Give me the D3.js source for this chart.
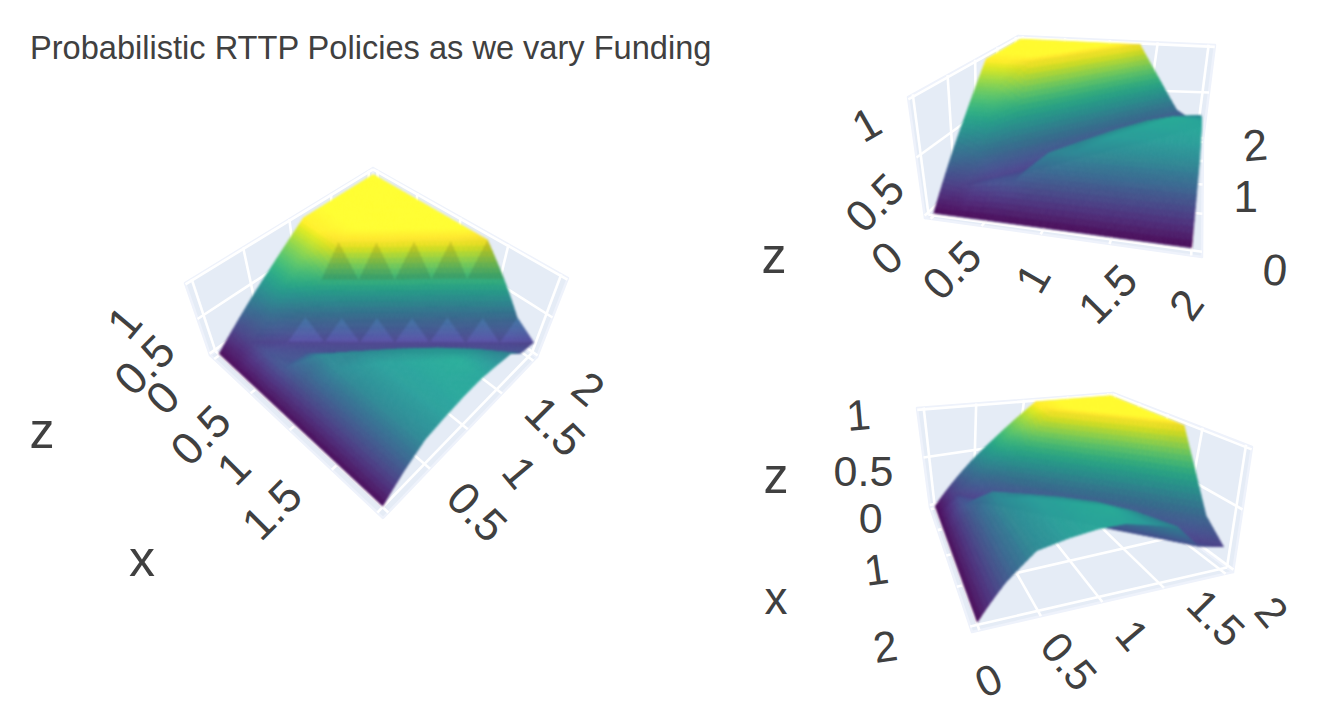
<!DOCTYPE html>
<html><head><meta charset="utf-8">
<script src="https://cdn.jsdelivr.net/npm/d3@7"></script>
<style>html,body{margin:0;padding:0;background:#fff}svg{display:block}text{font-family:"Liberation Sans",Arial,sans-serif;fill:#404040}.surf{filter:blur(0.8px)}</style>
</head><body><svg id="c" width="1320" height="720"></svg>
<script>
const chartTitle = "Probabilistic RTTP Policies as we vary Funding";
const xValues = [0,0.22,0.44,0.67,0.89,1.11,1.33,1.56,1.78,2];
const yValues = [0,0.22,0.44,0.67,0.89,1.11,1.33,1.56,1.78,2];
const zValues = [
 [0,0,0,0,0,0,0,0,0,0],
 [0.2,0.17,0.22,0.25,0.25,0.25,0.25,0.25,0.25,0.25],
 [0.4,0.32,0.17,0.22,0.42,0.45,0.45,0.45,0.45,0.45],
 [0.6,0.6,0.32,0.17,0.22,0.45,0.5,0.5,0.5,0.5],
 [0.8,0.8,0.66,0.32,0.17,0.22,0.48,0.53,0.53,0.53],
 [1,1,1,0.66,0.32,0.17,0.22,0.5,0.55,0.53],
 [1,1,1,1,0.66,0.32,0.17,0.22,0.48,0.48],
 [1,1,1,1,1,0.66,0.32,0.17,0.22,0.42],
 [1,1,1,1,1,1,0.66,0.32,0.17,0.22],
 [1,1,1,1,1,1,1,0.66,0.32,0.17]
];
const gridTicks = [0,0.5,1,1.5,2];
const zGridTicks = [0,0.5,1];

const scenes = [
 {floor:[[210,355],[383,518],[537,357],[373,240]], top:[[185,283],[387,462],[568,278],[373,168]], eye:[1,-1,1.6], light:[0.86,0.2],
  upShade:{0:1.15,2:0.88}, downShade:{}, fs:45,
  axes:{x:{ticks:[0.5,1,1.5],off:[[-50,42],[-56,38],[-60,40]],rot:[-45,-45,-45]},
        y:{ticks:[0.5,1,1.5,2],off:[[47,43],[52,43],[53,33],[55,28]],rot:[45,50,45,40]},
        z:{ticks:[0,0.5,1],off:[[-47,44],[-53,46],[-61,38]],rot:[-45,-45,-50]}},
  titles:[["z",42,431,50],["x",142,558,52]]},
 {floor:[[925,218],[1202,257],[1203,140],[1012,136]], top:[[908,97],[1217,127],[1215,45],[1018,36]], eye:[0.25,-1.5,0.5], light:[0.86,0.18],
  upShade:{}, downShade:{}, fs:44,
  axes:{x:{ticks:[0.5,1,1.5,2],off:[[-30,44],[-8,44],[-2,50],[-5,49]],rot:[-45,-60,-45,-55]},
        y:{ticks:[0,1,2],off:[[73,18],[43,12],[52,3]],rot:[5,0,-5]},
        z:{ticks:[0,0.5,1],off:[[-38,42],[-42,45],[-42,25]],rot:[-40,-45,-30]}},
  titles:[["z",774,256,50]]},
 {floor:[[930,507],[972,632],[1233,572],[1095,469]], top:[[917,408],[963,492],[1252,447],[1113,393]], eye:[1.5,-0.5,0.5], light:[0.86,0.18],
  upShade:{}, downShade:{}, fs:43,
  axes:{x:{ticks:[1,2],off:[[-70,14],[-85,20]],rot:[-8,-8]},
        y:{ticks:[0,0.5,1,1.5,2],off:[[9,50],[28,45],[30,33],[52,30],[46,38]],rot:[-25,50,50,45,50]},
        z:{ticks:[0,0.5,1],off:[[-59,13],[-60,13],[-59,5]],rot:[0,0,-5]}},
  titles:[["z",776,476,50],["x",776,598,46]]}
];

const svg = d3.select("#c");
svg.append("text").attr("x",30).attr("y",59).attr("font-size",32.6).text(chartTitle);

const uScale = d3.scaleLinear().domain([-0.06,2.06]).range([0,1]);
const vScale = d3.scaleLinear().domain([-0.06,2.06]).range([0,1]);
const wScale = d3.scaleLinear().domain([-0.02,1.02]).range([0,1]);
const colour = d3.scaleSequential(d3.interpolateViridis).domain([0,1]);

function quadMap(q){
  const [[x0,y0],[x1,y1],[x2,y2],[x3,y3]] = q;
  const dx1=x1-x2,dx2=x3-x2,sx=x0-x1+x2-x3,dy1=y1-y2,dy2=y3-y2,sy=y0-y1+y2-y3;
  const den=dx1*dy2-dx2*dy1,g=(sx*dy2-dx2*sy)/den,h=(dx1*sy-sx*dy1)/den;
  const a=x1-x0+g*x1,b=x3-x0+h*x3,d=y1-y0+g*y1,e=y3-y0+h*y3;
  return (u,v)=>{const w=g*u+h*v+1;return [(a*u+b*v+x0)/w,(d*u+e*v+y0)/w];};
}
const line = d3.line();

function normalZ(i,j){
  const n=xValues.length-1,m=yValues.length-1;
  const i0=Math.max(i-1,0),i1=Math.min(i+1,n),j0=Math.max(j-1,0),j1=Math.min(j+1,m);
  const du=(uScale(xValues[i1])-uScale(xValues[i0])),dv=(vScale(yValues[j1])-vScale(yValues[j0]));
  const a=(wScale(zValues[j][i1])-wScale(zValues[j][i0]))/du, b=(wScale(zValues[j1][i])-wScale(zValues[j0][i]))/dv;
  return 1/Math.sqrt(1+a*a+b*b);
}
const SUB = 7;

scenes.forEach(s=>{
  const fl=quadMap(s.floor), tp=quadMap(s.top);
  const proj=(x,y,z)=>{
    const u=uScale(x),v=vScale(y),w=wScale(z);
    const a=fl(u,v),b=tp(u,v);
    return [a[0]+(b[0]-a[0])*w,a[1]+(b[1]-a[1])*w];
  };
  const g=svg.append("g");
  const [xa,xb]=uScale.domain(), [ya,yb]=vScale.domain(), [za,zb]=wScale.domain();
  const walls=[
    [[xa,ya,za],[xb,ya,za],[xb,yb,za],[xa,yb,za]],
    [[xa,ya,za],[xa,yb,za],[xa,yb,zb],[xa,ya,zb]],
    [[xa,yb,za],[xb,yb,za],[xb,yb,zb],[xa,yb,zb]]
  ];
  g.append("g").selectAll("path").data(walls).join("path")
    .attr("d",w=>line(w.map(p=>proj(...p)))+"Z")
    .attr("fill","#e5ecf6").attr("stroke","#eef2fb").attr("stroke-width",2.5).attr("stroke-linejoin","round");
  const grid=[];
  gridTicks.forEach(t=>{
    grid.push([[t,ya,za],[t,yb,za]]);
    grid.push([[t,yb,za],[t,yb,zb]]);
    grid.push([[xa,t,za],[xb,t,za]]);
    grid.push([[xa,t,za],[xa,t,zb]]);
  });
  zGridTicks.forEach(t=>{
    grid.push([[xa,ya,t],[xa,yb,t]]);
    grid.push([[xa,yb,t],[xb,yb,t]]);
  });
  g.append("g").selectAll("path").data(grid).join("path")
    .attr("d",w=>line(w.map(p=>proj(...p))))
    .attr("fill","none").attr("stroke","#fff").attr("stroke-width",2.6);

  const e=s.eye, tris=[];
  const vert=(i,j)=>({x:xValues[i],y:yValues[j],z:zValues[j][i],l:s.light[0]+s.light[1]*normalZ(i,j)});
  const addTri=(A,B,C,shade)=>{
    for(let a=0;a<SUB;a++)for(let b=0;b<SUB-a;b++){
      const lat=[[a,b],[a+1,b],[a,b+1]];
      const pushT=(bs)=>{
        const pts=bs.map(([p,q])=>{const r=SUB-p-q,f=k=>(A[k]*p+B[k]*q+C[k]*r)/SUB;return {x:f("x"),y:f("y"),z:f("z"),l:f("l")};});
        const m=k=>(pts[0][k]+pts[1][k]+pts[2][k])/3;
        const depth=(uScale(m("x"))-.5)*e[0]+(vScale(m("y"))-.5)*e[1]+(wScale(m("z"))-.5)*e[2];
        const c=d3.rgb(colour(m("z"))), L=m("l")*shade;
        const cl=v=>Math.min(255,v*L+10);
        tris.push({d:line(pts.map(p=>proj(p.x,p.y,p.z)))+"Z",depth,col:`rgb(${cl(c.r)|0},${cl(c.g)|0},${cl(c.b)|0})`});
      };
      pushT(lat);
      if(a+b<SUB-1)pushT([[a+1,b],[a+1,b+1],[a,b+1]]);
    }
  };
  for(let j=0;j<yValues.length-1;j++)for(let i=0;i<xValues.length-1;i++){
    const k=j-i;
    const dn=(i>=2&&s.downShade[k])||1, up=(i>=2&&s.upShade[k])||1;
    addTri(vert(i,j),vert(i+1,j),vert(i+1,j+1),dn);
    addTri(vert(i,j),vert(i,j+1),vert(i+1,j+1),up);
  }
  tris.sort((a,b)=>a.depth-b.depth);
  g.append("g").attr("class","surf").selectAll("path").data(tris).join("path")
    .attr("d",t=>t.d).attr("fill",t=>t.col).attr("stroke",t=>t.col).attr("stroke-width",0.7).attr("stroke-linejoin","round");

  const fmt=d3.format("~g");
  const labels=[];
  const at={x:t=>proj(t,ya,za),y:t=>proj(xb,t,za),z:t=>proj(xa,ya,t)};
  Object.entries(s.axes).forEach(([name,ax])=>ax.ticks.forEach((t,n)=>{
    const p=at[name](t);
    labels.push({t:fmt(t),x:p[0]+ax.off[n][0],y:p[1]+ax.off[n][1],r:ax.rot[n]});
  }));
  g.append("g").selectAll("text").data(labels).join("text")
    .attr("text-anchor","middle").attr("dominant-baseline","central").attr("font-size",s.fs)
    .attr("transform",d=>`translate(${d.x},${d.y}) rotate(${d.r})`).text(d=>d.t);
  g.append("g").selectAll("text").data(s.titles).join("text")
    .attr("text-anchor","middle").attr("dominant-baseline","central")
    .attr("x",d=>d[1]).attr("y",d=>d[2]).attr("font-size",d=>d[3]).text(d=>d[0]);
});
</script></body></html>
